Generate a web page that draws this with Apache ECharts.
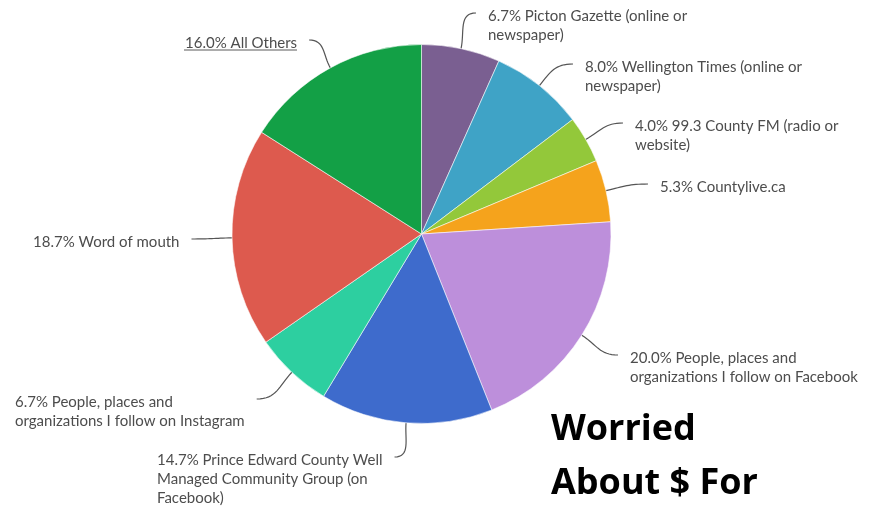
<!DOCTYPE html>
<html>
<head>
<meta charset="utf-8">
<script src="https://cdn.jsdelivr.net/npm/echarts@6/dist/echarts.min.js"></script>
<style>
  html, body { margin: 0; padding: 0; background: #fff; }
  #chart { width: 879px; height: 509px; }
</style>
</head>
<body>
<div id="chart"></div>
<script>
// ---- data ----
const categories = [
  'Picton Gazette (online or\nnewspaper)',
  'Wellington Times (online or\nnewspaper)',
  '99.3 County FM (radio or\nwebsite)',
  'Countylive.ca',
  'People, places and\norganizations I follow on Facebook',
  'Prince Edward County Well\nManaged Community Group (on\nFacebook)',
  'People, places and\norganizations I follow on Instagram',
  'Word of mouth',
  'All Others'
];
const percentages = [6.7, 8.0, 4.0, 5.3, 20.0, 14.7, 6.7, 18.7, 16.0];
const overlayText = 'Worried\nAbout $ For';

// ---- styles / layout ----
const colors = ['#7a5f91', '#3fa3c6', '#93c83a', '#f5a31c', '#bd8fdb', '#3e6bcc', '#2dcfa0', '#dd5a4e', '#13a046'];
const CENTER = [421.5, 234];
const RADIUS = 189.5;
const LINE_H = 19;
const GAP = 12;
// label placement: [left x, first-line centre y, side the connector attaches to]
const labelPos = [
  [488, 16, 'L'], [585, 67, 'L'], [635, 126, 'L'], [660, 187, 'L'], [630, 358, 'L'],
  [157, 460, 'R'], [15, 402, 'R'], [33, 242, 'R'], [185, 43, 'R']
];

const chart = echarts.init(document.getElementById('chart'), null, { renderer: 'canvas' });

const data = categories.map((name, i) => ({
  name: name,
  value: percentages[i],
  itemStyle: { color: colors[i] }
}));

function curvePoints(p0, p2) {
  // cubic curve leaving the slice radially and arriving horizontally at the label
  const dx0 = p0[0] - CENTER[0], dy0 = p0[1] - CENTER[1];
  const len0 = Math.sqrt(dx0 * dx0 + dy0 * dy0) || 1;
  const d = [dx0 / len0, dy0 / len0];
  const dist = Math.hypot(p2[0] - p0[0], p2[1] - p0[1]);
  const k = 0.45 * dist;
  const dir = p2[0] > p0[0] ? 1 : -1;
  const c1 = [p0[0] + d[0] * k, p0[1] + d[1] * k];
  const c2 = [p2[0] - dir * k, p2[1]];
  const pts = [];
  const N = 16;
  for (let s = 0; s <= N; s++) {
    const t = s / N, u = 1 - t;
    pts.push([
      u * u * u * p0[0] + 3 * u * u * t * c1[0] + 3 * u * t * t * c2[0] + t * t * t * p2[0],
      u * u * u * p0[1] + 3 * u * u * t * c1[1] + 3 * u * t * t * c2[1] + t * t * t * p2[1]
    ]);
  }
  return pts;
}

chart.setOption({
  animation: false,
  backgroundColor: '#ffffff',
  title: {
    text: overlayText,
    left: 546,
    top: 398,
    textStyle: {
      fontFamily: 'Open Sans',
      fontWeight: 'bold',
      fontSize: 36,
      lineHeight: 54,
      color: '#000'
    }
  },
  graphic: [{
    type: 'line',
    shape: { x1: 184, y1: 50, x2: 297, y2: 50 },
    style: { stroke: '#5a5a5a', lineWidth: 1 }
  }],
  series: [{
    type: 'pie',
    center: CENTER,
    radius: RADIUS,
    startAngle: 90,
    clockwise: true,
    avoidLabelOverlap: false,
    data: data,
    itemStyle: { borderColor: 'rgba(255,255,255,0.55)', borderWidth: 1 },
    label: {
      show: true,
      formatter: p => p.value.toFixed(1) + '% ' + p.name,
      fontFamily: 'Lato',
      fontSize: 15,
      lineHeight: LINE_H,
      color: '#4d4d4d'
    },
    labelLine: {
      show: true,
      length: 15,
      length2: 14,
      smooth: false,
      lineStyle: { color: '#555555', width: 1.2 }
    },
    labelLayout: function (params) {
      const pos = labelPos[params.dataIndex];
      const w = params.labelRect.width;
      const p0 = params.labelLinePoints ? params.labelLinePoints[0] : CENTER;
      const endX = pos[2] === 'L' ? pos[0] - GAP : pos[0] + w + GAP;
      const p2 = [endX, pos[1] - 3];
      return {
        x: pos[0],
        y: pos[1] - LINE_H / 2,
        align: 'left',
        verticalAlign: 'top',
        labelLinePoints: curvePoints(p0, p2)
      };
    },
    emphasis: { disabled: true }
  }]
});
</script>
</body>
</html>
